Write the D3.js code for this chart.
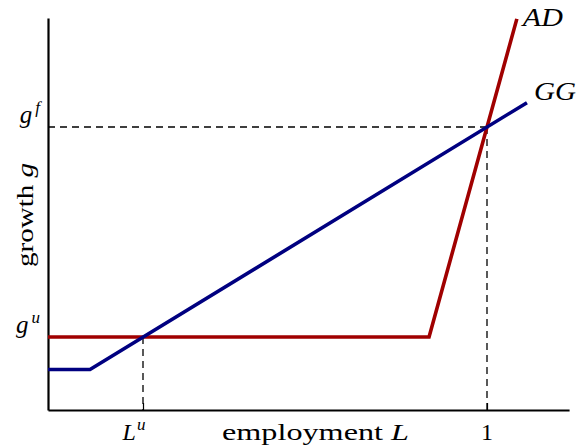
<!DOCTYPE html>
<html>
<head>
<meta charset="utf-8">
<script src="https://cdn.jsdelivr.net/npm/d3@7"></script>
<style>
  html, body { margin: 0; padding: 0; background: #fff; }
  svg { display: block; }
  text { font-family: "Liberation Serif", "DejaVu Serif", serif; fill: #000; }
</style>
</head>
<body>
<svg id="chart" width="578" height="445"></svg>
<script>
// ---- data ----
const xLabelText = "employment";
const xLabelVar = "L";
const yLabelText = "growth";
const yLabelVar = "g";
const xTickValues = [0.2164, 1];
const xTickBase = ["L", "1"];
const xTickSup = ["u", ""];
const yTickValues = [0.258, 1];
const yTickBase = ["g", "g"];
const yTickSup = ["u", "f"];
const ggX = [0, 0.0957, 1.091];
const ggY = [0.143, 0.143, 1.086];
const adX = [0, 0.868, 1.068];
const adY = [0.258, 0.258, 1.382];
const seriesNames = ["GG", "AD"];
const xMax = 1.187;
const yMax = 1.385;

const svg = d3.select("#chart");
const x = d3.scaleLinear().domain([0, 1]).range([48, 487]);
const y = d3.scaleLinear().domain([0, 1]).range([410, 127]);

const colGG = "#000080";
const colAD = "#a00000";

// dashed guide lines
const guide = svg.append("g")
  .attr("stroke", "#000").attr("stroke-width", 1.3)
  .attr("stroke-dasharray", "7,5").attr("fill", "none");
guide.append("line")
  .attr("x1", x(0)).attr("x2", x(1)).attr("y1", y(1)).attr("y2", y(1));
guide.append("line")
  .attr("x1", x(1)).attr("x2", x(1)).attr("y1", y(1)).attr("y2", y(0));
guide.append("line")
  .attr("x1", x(xTickValues[0])).attr("x2", x(xTickValues[0]))
  .attr("y1", y(yTickValues[0])).attr("y2", y(0));

// axes
const xAxisScale = d3.scaleLinear().domain([0, xMax]).range([x(0), x(xMax)]);
const xAxis = d3.axisBottom(xAxisScale)
  .tickValues(xTickValues).tickSizeInner(-7).tickSizeOuter(0).tickFormat("");
const gx = svg.append("g").attr("transform", `translate(0,${y(0)})`).call(xAxis);
gx.select(".domain").attr("stroke-width", 2.2);
gx.selectAll(".tick line").attr("stroke-width", 1.2);

const yAxisScale = d3.scaleLinear().domain([0, yMax]).range([y(0), y(yMax)]);
const yAxis = d3.axisLeft(yAxisScale).tickValues([]).tickSizeOuter(0);
const gy = svg.append("g").attr("transform", `translate(${x(0)},0)`).call(yAxis);
gy.select(".domain").attr("stroke-width", 2.2);

// lines
const line = d3.line().x(d => x(d[0])).y(d => y(d[1]));
svg.append("path")
  .datum(d3.zip(adX, adY))
  .attr("d", line).attr("fill", "none").attr("stroke", colAD)
  .attr("stroke-width", 3.6).attr("stroke-linejoin", "miter");
svg.append("path")
  .datum(d3.zip(ggX, ggY))
  .attr("d", line).attr("fill", "none").attr("stroke", colGG)
  .attr("stroke-width", 3.6).attr("stroke-linejoin", "miter");

// series labels
svg.append("text")
  .attr("x", x(ggX[2]) + 7).attr("y", y(ggY[2]) - 3)
  .attr("font-size", 25).attr("font-style", "italic")
  .attr("textLength", 42).attr("lengthAdjust", "spacingAndGlyphs")
  .text(seriesNames[0]);
svg.append("text")
  .attr("x", x(adX[2]) + 6).attr("y", y(adY[2]) + 7)
  .attr("font-size", 25).attr("font-style", "italic")
  .attr("textLength", 40).attr("lengthAdjust", "spacingAndGlyphs")
  .text(seriesNames[1]);

// x tick labels
xTickValues.forEach((v, i) => {
  const t = svg.append("text")
    .attr("x", x(v) - (xTickSup[i] ? 9 : 0)).attr("y", 440)
    .attr("text-anchor", "middle").attr("font-size", 24);
  if (xTickSup[i]) {
    t.append("tspan").attr("font-style", "italic").text(xTickBase[i]);
    t.append("tspan").attr("font-style", "italic").attr("font-size", 17)
      .attr("dy", -10).attr("dx", 1).text(xTickSup[i]);
  } else {
    t.text(xTickBase[i]);
  }
});

// y tick labels
yTickValues.forEach((v, i) => {
  const t = svg.append("text")
    .attr("x", x(0) - 8).attr("y", y(v) - 4)
    .attr("text-anchor", "end").attr("font-size", 25);
  t.append("tspan").attr("font-style", "italic").text(yTickBase[i]);
  t.append("tspan").attr("font-style", "italic").attr("font-size", 17)
    .attr("dy", -10).attr("dx", 3).text(yTickSup[i]);
});

// axis titles
const xt = svg.append("text")
  .attr("x", 222).attr("y", 440).attr("font-size", 24)
  .attr("textLength", 187).attr("lengthAdjust", "spacingAndGlyphs");
xt.append("tspan").text(xLabelText + " ");
xt.append("tspan").attr("font-style", "italic").text(xLabelVar);

const yt = svg.append("text")
  .attr("transform", `translate(33,215) rotate(-90)`)
  .attr("text-anchor", "middle").attr("font-size", 24)
  .attr("textLength", 104).attr("lengthAdjust", "spacingAndGlyphs");
yt.append("tspan").text(yLabelText + " ");
yt.append("tspan").attr("font-style", "italic").text(yLabelVar);
</script>
</body>
</html>
